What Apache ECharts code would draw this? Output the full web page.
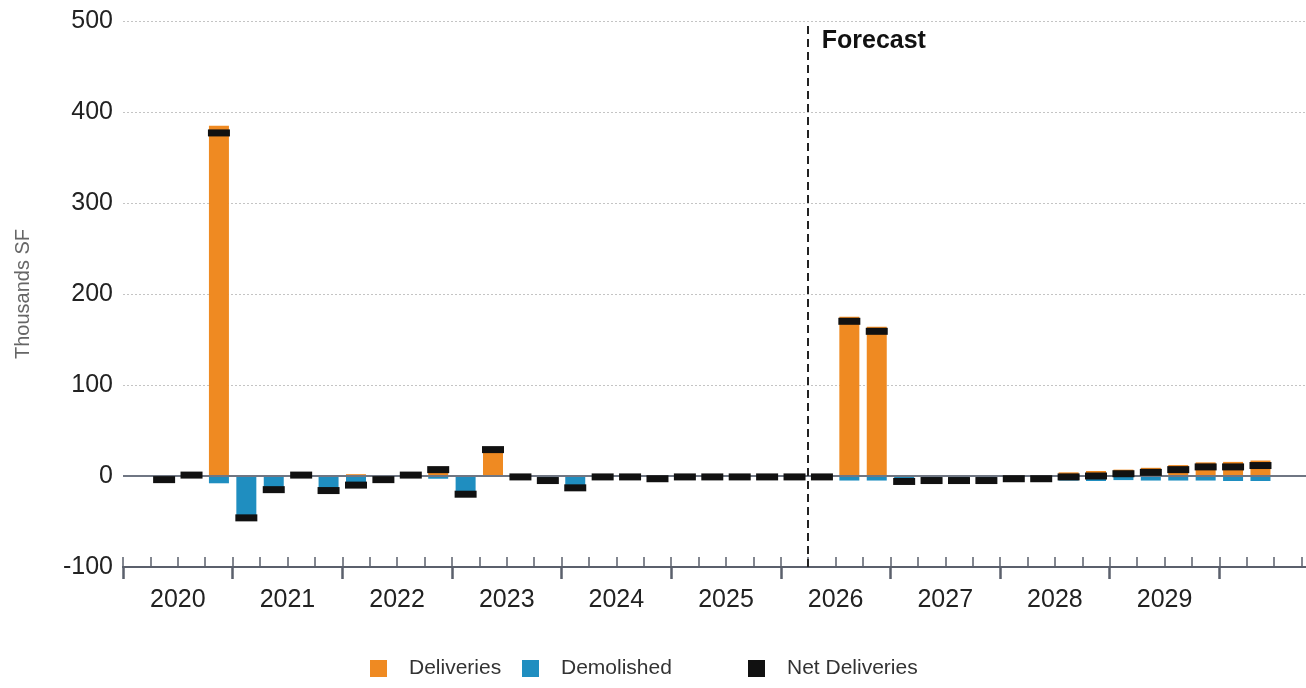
<!DOCTYPE html>
<html>
<head>
<meta charset="utf-8">
<script src="https://cdn.jsdelivr.net/npm/echarts@6/dist/echarts.min.js"></script>
<style>
html, body {margin: 0; padding: 0; background: #fff;}
#display {width: 1306px; height: 688px;}
</style>
</head>
<body>
<div id="display"></div>
<script>
// year labels on the axis, each year has 4 quarters
var years = ['2020', '2021', '2022', '2023', '2024', '2025', '2026', '2027', '2028', '2029', '2030'];

// thousands SF, one entry per quarter, 2020 Q1 .. 2030 Q4
var deliveries = [null, 0, 1, 385,  0, 0, 1, 0,  2, 0, 1, 10,  0, 30, 0, 0,
                  0, 0, 0, 0,  0, 0, 0, 0,  0, 0, 175, 164,  0, 0, 0, 0,
                  0, 1, 4, 5.5,  7, 9, 12, 15,  15.5, 17, null, null];
var demolished = [null, -4, 0, -8,  -46, -15, 0, -16,  -12, -4, 0, -3,  -20, -1, -1, -5,
                  -13, -1, -1, -3,  -1, -1, -1, -1,  -1, -1, -5, -5,  -6, -5, -5, -5,
                  -3, -4, -5, -5.5,  -4.5, -5, -5, -5,  -5.5, -5.5, null, null];
var netDeliveries = [null, -4, 1, 377,  -46, -15, 1, -16,  -10, -4, 1, 7,  -20, 29, -1, -5,
                     -13, -1, -1, -3,  -1, -1, -1, -1,  -1, -1, 170, 159,  -6, -5, -5, -5,
                     -3, -3, -1, 0,  2.5, 4, 7, 10,  10, 11.5, null, null];

var seriesNames = ['Deliveries', 'Demolished', 'Net Deliveries'];

// forecast starts after 2026 Q1 (quarter boundary index)
var forecastStart = 25;

var quarters = [];
for (var y = 0; y < years.length; y++) {
    for (var q = 1; q <= 4; q++) {
        quarters.push(years[y] + ' Q' + q);
    }
}

var axisColor = '#5b606c';
var font = "'Liberation Sans', Arial, sans-serif";

// one legend box per item so the spacing follows the original
function makeLegend(name, left) {
    return {
        data: [name],
        left: left,
        top: 658,
        padding: 0,
        icon: 'rect',
        itemWidth: 17,
        itemHeight: 17,
        textStyle: {fontSize: 21, color: '#333', padding: [0, 0, 0, 17]}
    };
}

var option = {
    animation: false,
    textStyle: {fontFamily: font},
    // last quarters run past the right edge, as in the original
    grid: {left: 123, top: 21, bottom: 121, width: 1206, outerBoundsMode: 'none', containLabel: false},
    legend: [
        makeLegend(seriesNames[0], 370),
        makeLegend(seriesNames[1], 522),
        makeLegend(seriesNames[2], 748)
    ],
    xAxis: [{
        type: 'category',
        data: quarters,
        boundaryGap: true,
        axisLine: {onZero: false, lineStyle: {color: axisColor, width: 2}},
        axisTick: {show: true, interval: 0, inside: true, length: 10, lineStyle: {color: axisColor, width: 1.5}},
        axisLabel: {show: false},
        splitLine: {show: false}
    }, {
        type: 'category',
        data: years,
        position: 'bottom',
        boundaryGap: true,
        axisLine: {onZero: false, lineStyle: {color: axisColor, width: 2}},
        axisTick: {show: true, interval: 0, length: 12, lineStyle: {color: axisColor, width: 2.5}},
        axisLabel: {
            interval: 0, fontSize: 25, color: '#222', margin: 21,
            formatter: function (v) { return v == '2030' ? '' : v; }
        },
        splitLine: {show: false}
    }, {
        type: 'value',
        min: 0,
        max: quarters.length,
        show: false
    }],
    yAxis: {
        type: 'value',
        min: -100,
        max: 500,
        interval: 100,
        name: 'Thousands SF',
        nameLocation: 'middle',
        nameGap: 90,
        nameTextStyle: {fontSize: 20, color: '#666'},
        axisLine: {show: false},
        axisTick: {show: false},
        axisLabel: {fontSize: 25, color: '#222', margin: 10},
        splitLine: {lineStyle: {color: '#c4c4c4', type: [2, 2], width: 1}}
    },
    series: [{
        name: seriesNames[0],
        type: 'bar',
        stack: 'q',
        xAxisIndex: 0,
        barWidth: 20,
        itemStyle: {color: '#ef8a22'},
        data: deliveries,
        markLine: {
            silent: true,
            symbol: 'none',
            label: {show: false},
            lineStyle: {color: '#6f7683', width: 2, type: 'solid'},
            data: [{yAxis: 0}]
        }
    }, {
        name: seriesNames[1],
        type: 'bar',
        stack: 'q',
        xAxisIndex: 0,
        barWidth: 20,
        itemStyle: {color: '#1f8ec0'},
        data: demolished
    }, {
        name: seriesNames[2],
        type: 'scatter',
        xAxisIndex: 0,
        symbol: 'rect',
        symbolSize: [22, 7],
        itemStyle: {color: '#111', opacity: 1},
        z: 5,
        data: netDeliveries
    }, {
        name: 'forecast',
        type: 'line',
        xAxisIndex: 2,
        data: [],
        markLine: {
            silent: true,
            symbol: 'none',
            label: {show: false},
            lineStyle: {color: '#222', width: 2, type: [8, 5]},
            data: [{xAxis: forecastStart}]
        },
        markPoint: {
            silent: true,
            symbol: 'rect',
            symbolSize: 1,
            itemStyle: {color: 'transparent'},
            label: {
                show: true, position: 'right', distance: 13,
                formatter: 'Forecast', fontSize: 25, fontWeight: 'bold', color: '#111'
            },
            data: [{coord: [forecastStart, 478]}]
        }
    }]
};

var myChart = echarts.init(document.getElementById('display'));
myChart.setOption(option);
</script>
</body>
</html>
